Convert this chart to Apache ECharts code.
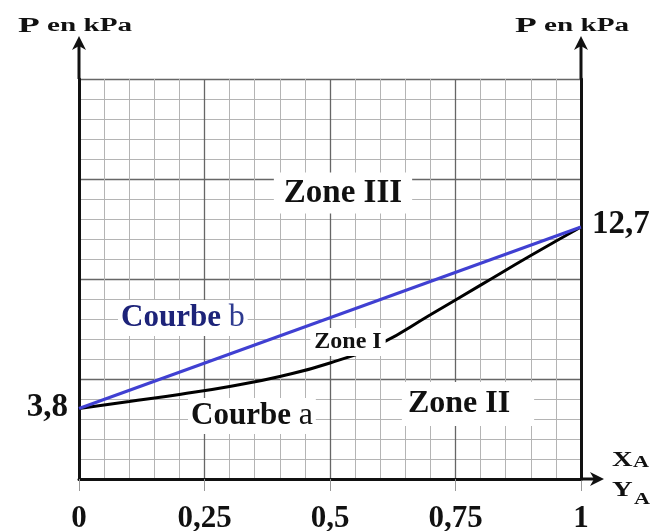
<!DOCTYPE html>
<html><head><meta charset="utf-8">
<script src="https://cdn.jsdelivr.net/npm/echarts@6/dist/echarts.min.js"></script>
<style>html,body{margin:0;padding:0;background:#fff}#c{width:671px;height:531px}</style>
</head><body><div id="c"></div>
<script>
// ---- data ----
const xTicks = [0, 0.25, 0.5, 0.75, 1];
const xTickLabels = ['0', '0,25', '0,5', '0,75', '1'];
const fractionA = [0, 0.1, 0.2, 0.3, 0.4, 0.5, 0.6, 0.7, 0.8, 0.9, 1];
const pressureA = [3.8, 4.14, 4.49, 4.88, 5.37, 6.03, 6.97, 8.4, 9.85, 11.3, 12.7];
const fractionB = [0, 1];
const pressureB = [3.8, 12.7];
const endLabels = ['3,8', '12,7'];
const axisTitle = ['P', 'en kPa'];
const xAxisNames = [['X', 'A'], ['Y', 'A']];
const zoneNames = ['Zone I', 'Zone II', 'Zone III'];
const curveNames = [['Courbe', 'a'], ['Courbe', 'b']];

const SERIF = '"Liberation Serif", "Times New Roman", serif';
const chart = echarts.init(document.getElementById('c'), null, {renderer: 'canvas'});

function fmtX(v) {
  const i = xTicks.findIndex(t => Math.abs(t - v) < 1e-9);
  return i >= 0 ? xTickLabels[i] : '';
}

const minorColor = '#b4b4b4';
const majorColor = '#666666';

const option = {
  animation: false,
  backgroundColor: '#ffffff',
  grid: {left: 79, right: 90, top: 79, bottom: 52, containLabel: false, outerBoundsMode: 'none'},
  xAxis: [
    {type: 'value', min: 0, max: 1, interval: 0.05,
     axisLine: {show: false}, axisTick: {show: false}, axisLabel: {show: false},
     splitLine: {show: true, lineStyle: {color: minorColor, width: 1}}},
    {type: 'value', min: 0, max: 1, interval: 0.25, position: 'bottom',
     axisLine: {show: true, onZero: false, lineStyle: {color: '#111', width: 3}},
     axisTick: {show: true, length: 12, lineStyle: {color: '#999', width: 1}},
     axisLabel: {show: true, margin: 24, fontFamily: SERIF, fontWeight: 'bold', fontSize: 31, color: '#111', formatter: fmtX},
     splitLine: {show: true, lineStyle: {color: majorColor, width: 1.3}}}
  ],
  yAxis: [
    {type: 'value', min: 0, max: 20, interval: 1, position: 'left',
     axisLine: {show: false}, axisTick: {show: false}, axisLabel: {show: false},
     splitLine: {show: true, lineStyle: {color: minorColor, width: 1}}},
    {type: 'value', min: 0, max: 20, interval: 5, position: 'left',
     axisLine: {show: true, onZero: false, lineStyle: {color: '#111', width: 3}},
     axisTick: {show: false}, axisLabel: {show: false},
     splitLine: {show: true, lineStyle: {color: majorColor, width: 1.3}}},
    {type: 'value', min: 0, max: 20, interval: 5, position: 'right',
     axisLine: {show: true, onZero: false, lineStyle: {color: '#111', width: 3}},
     axisTick: {show: false}, axisLabel: {show: false}, splitLine: {show: false}},
    {type: 'value', min: 0.343, max: 19.958, position: 'left', show: false}
  ],
  series: [
    {name: 'Courbe a', type: 'line', xAxisIndex: 1, yAxisIndex: 3,
     data: fractionA.map((x, i) => [x, pressureA[i]]),
     smooth: 0.5, showSymbol: false, z: 3,
     lineStyle: {color: '#000', width: 3}},
    {name: 'Courbe b', type: 'line', xAxisIndex: 1, yAxisIndex: 3,
     data: fractionB.map((x, i) => ({
       value: [x, pressureB[i]],
       label: {show: true, position: i === 0 ? 'left' : 'right', distance: 11,
               offset: i === 0 ? [0, -1] : [0, -3],
               formatter: endLabels[i], fontFamily: SERIF, fontWeight: 'bold', fontSize: 33, color: '#111'}
     })),
     symbol: 'circle', symbolSize: 0.1, showSymbol: true, z: 4,
     lineStyle: {color: '#4040d2', width: 3}, itemStyle: {color: '#4040d2'}}
  ]
};
chart.setOption(option);

// ---- decorations computed from axes ----
const pTL = chart.convertToPixel({xAxisIndex: 1, yAxisIndex: 1}, [0, 20]);
const pTR = chart.convertToPixel({xAxisIndex: 1, yAxisIndex: 1}, [1, 20]);
const pBR = chart.convertToPixel({xAxisIndex: 1, yAxisIndex: 1}, [1, 0]);

function upArrow(x, yTop, yTip) {
  return [
    {type: 'line', z: 50, shape: {x1: x, y1: yTop, x2: x, y2: yTip + 8}, style: {stroke: '#111', lineWidth: 3}},
    {type: 'polygon', z: 50, shape: {points: [[x, yTip], [x - 7, yTip + 14], [x, yTip + 10], [x + 7, yTip + 14]]}, style: {fill: '#111'}}
  ];
}
function rightArrow(xStart, y, xTip) {
  return [
    {type: 'line', z: 50, shape: {x1: xStart, y1: y, x2: xTip - 8, y2: y}, style: {stroke: '#111', lineWidth: 3}},
    {type: 'polygon', z: 50, shape: {points: [[xTip, y], [xTip - 14, y - 7], [xTip - 10, y], [xTip - 14, y + 7]]}, style: {fill: '#111'}}
  ];
}
function text(x, y, content, font, o) {
  o = o || {};
  const st = {text: content, font: font, fill: o.fill || '#111',
    align: o.align || 'center', textAlign: o.align || 'center',
    verticalAlign: 'middle', textVerticalAlign: 'middle'};
  if (o.bg) { st.backgroundColor = o.bg; st.padding = o.padding || [2, 4]; }
  if (o.rich) st.rich = o.rich;
  return {type: 'text', z: 100, x: x, y: y, scaleX: o.scaleX || 1, style: st};
}

const titleRich = {
  p: {font: 'bold 22px ' + SERIF, fill: '#111'},
  s: {font: 'bold 18px ' + SERIF, fill: '#111'}
};
const titleStr = '{p|' + axisTitle[0] + '} {s|' + axisTitle[1] + '}';

const graphics = [].concat(
  upArrow(pTL[0], pTL[1], 36),
  upArrow(pTR[0], pTR[1], 36),
  rightArrow(pBR[0], pBR[1], 604),
  [
    text(75, 26, titleStr, 'bold 18px ' + SERIF, {rich: titleRich, scaleX: 1.62}),
    text(572, 26, titleStr, 'bold 18px ' + SERIF, {rich: titleRich, scaleX: 1.62}),
    text(343, 193, zoneNames[2], 'bold 33px ' + SERIF, {bg: '#fff', padding: [4, 10, 4, 10]}),
    text(468, 404, zoneNames[1], 'bold 32px ' + SERIF, {bg: '#fff', padding: [6, 24, 6, 6]}),
    text(348, 342, zoneNames[0], 'bold 24px ' + SERIF, {bg: '#fff', padding: [2, 4, 2, 4]}),
    text(118, 318, '{c|' + curveNames[1][0] + '} {b|' + curveNames[1][1] + '}', 'bold 31px ' + SERIF,
      {align: 'left', bg: '#fff', padding: [2, 3], rich: {
        c: {font: 'bold 31px ' + SERIF, fill: '#1d2379'},
        b: {font: '32px ' + SERIF, fill: '#2e3b90'}}}),
    text(188, 416, '{c|' + curveNames[0][0] + '} {a|' + curveNames[0][1] + '}', 'bold 31px ' + SERIF,
      {align: 'left', bg: '#fff', padding: [2, 3], rich: {
        c: {font: 'bold 31px ' + SERIF, fill: '#111'},
        a: {font: '32px ' + SERIF, fill: '#111'}}}),
    text(612, 460, xAxisNames[0][0], 'bold 22px ' + SERIF, {align: 'left', scaleX: 1.3}),
    text(633, 463, xAxisNames[0][1], 'bold 17px ' + SERIF, {align: 'left', scaleX: 1.3}),
    text(612, 490, xAxisNames[1][0], 'bold 22px ' + SERIF, {align: 'left', scaleX: 1.3}),
    text(634, 500, xAxisNames[1][1], 'bold 17px ' + SERIF, {align: 'left', scaleX: 1.3})
  ]
);
chart.setOption({graphic: graphics});
</script>
</body></html>
